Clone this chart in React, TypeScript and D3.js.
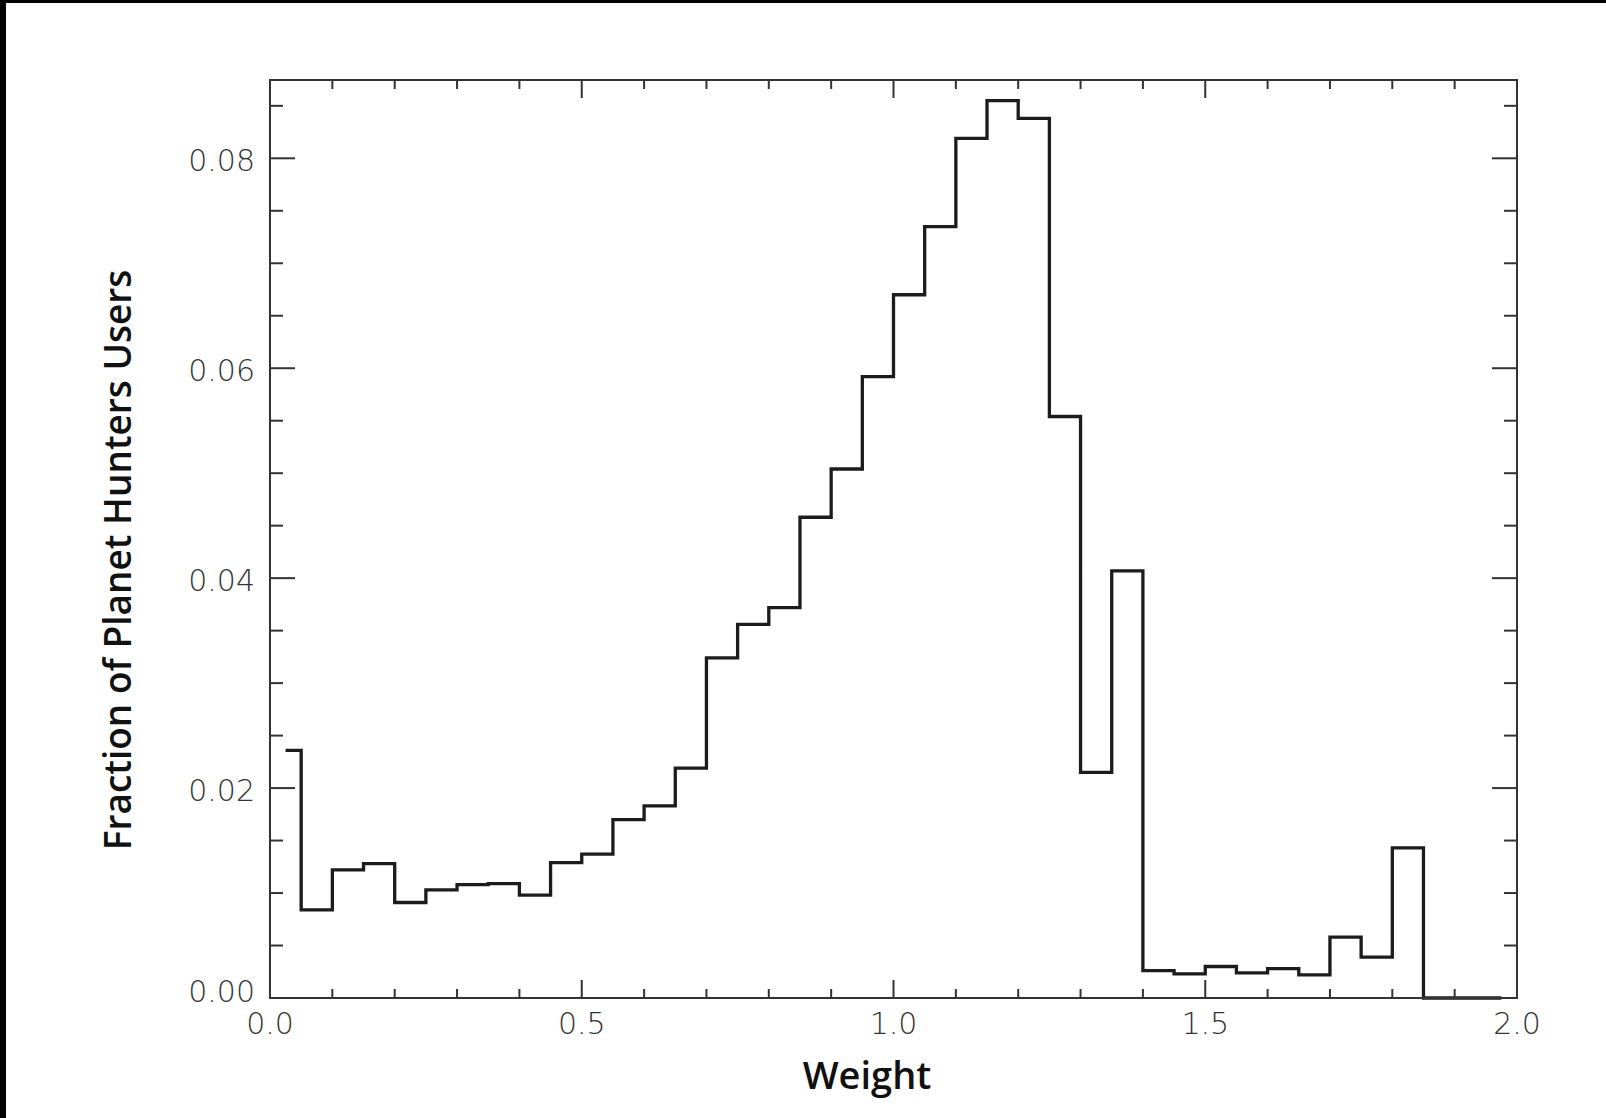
import React from "react";
import * as d3 from "d3";

const binCenters = [
  0.025, 0.075, 0.125, 0.175, 0.225, 0.275, 0.325, 0.375, 0.425, 0.475,
  0.525, 0.575, 0.625, 0.675, 0.725, 0.775, 0.825, 0.875, 0.925, 0.975,
  1.025, 1.075, 1.125, 1.175, 1.225, 1.275, 1.325, 1.375, 1.425, 1.475,
  1.525, 1.575, 1.625, 1.675, 1.725, 1.775, 1.825, 1.875, 1.925, 1.975,
];
const fractions = [
  0.0236, 0.0084, 0.0122, 0.0128, 0.0091, 0.0103, 0.0108, 0.0109, 0.0098, 0.0129,
  0.0137, 0.0170, 0.0183, 0.0219, 0.0324, 0.0356, 0.0372, 0.0458, 0.0504, 0.0592,
  0.0670, 0.0735, 0.0819, 0.0855, 0.0838, 0.0554, 0.0215, 0.0407, 0.0026, 0.0023,
  0.0030, 0.0024, 0.0028, 0.0022, 0.0058, 0.0039, 0.0143, 0, 0, 0,
];
const xMajorTicks = [0, 0.5, 1.0, 1.5, 2.0];
const xMinorTicks = [0.1, 0.2, 0.3, 0.4, 0.6, 0.7, 0.8, 0.9, 1.1, 1.2, 1.3, 1.4, 1.6, 1.7, 1.8, 1.9];
const yMajorTicks = [0, 0.02, 0.04, 0.06, 0.08];
const yMinorTicks = [0.005, 0.01, 0.015, 0.025, 0.03, 0.035, 0.045, 0.05, 0.055, 0.065, 0.07, 0.075, 0.085];
const xLabels = ["0.0", "0.5", "1.0", "1.5", "2.0"];
const yLabels = ["0.00", "0.02", "0.04", "0.06", "0.08"];

const W = 1606;
const H = 1118;
const L = 270, R = 1517, T = 80, B = 998;

export default function App() {
  const x = d3.scaleLinear().domain([0, 2]).range([L, R]);
  const y = d3.scaleLinear().domain([0, 0.08746]).range([B, T]);
  const pts: [number, number][] = binCenters.map((c, i) => [c, fractions[i]]);
  const line = d3
    .line<[number, number]>()
    .x((d) => x(d[0]))
    .y((d) => y(d[1]))
    .curve(d3.curveStep);
  const axisColor = "#333";
  const tickFont = "'DejaVu Sans', sans-serif";
  const titleFont = "'Open Sans', sans-serif";
  return (
    <svg
      width={W}
      height={H}
      style={{ position: "absolute", left: 0, top: 0, background: "#fff" }}
    >
      <rect x={0} y={0} width={W} height={H} fill="#fff" />
      <rect x={0} y={0} width={W} height={3} fill="#000" />
      <rect x={0} y={0} width={6} height={H} fill="#000" />

      <path d={line(pts) || ""} fill="none" stroke="#1c1c1c" strokeWidth={3.3} strokeLinejoin="miter" />

      <rect x={L} y={T} width={R - L} height={B - T} fill="none" stroke={axisColor} strokeWidth={2} />

      {xMajorTicks.map((t) => (
        <g key={"xM" + t}>
          <line x1={x(t)} x2={x(t)} y1={B} y2={B - 18} stroke={axisColor} strokeWidth={2} />
          <line x1={x(t)} x2={x(t)} y1={T} y2={T + 18} stroke={axisColor} strokeWidth={2} />
        </g>
      ))}
      {xMinorTicks.map((t) => (
        <g key={"xm" + t}>
          <line x1={x(t)} x2={x(t)} y1={B} y2={B - 9} stroke={axisColor} strokeWidth={2} />
          <line x1={x(t)} x2={x(t)} y1={T} y2={T + 9} stroke={axisColor} strokeWidth={2} />
        </g>
      ))}
      {yMajorTicks.map((t) => (
        <g key={"yM" + t}>
          <line x1={L} x2={L + 25} y1={y(t)} y2={y(t)} stroke={axisColor} strokeWidth={2} />
          <line x1={R} x2={R - 25} y1={y(t)} y2={y(t)} stroke={axisColor} strokeWidth={2} />
        </g>
      ))}
      {yMinorTicks.map((t) => (
        <g key={"ym" + t}>
          <line x1={L} x2={L + 13} y1={y(t)} y2={y(t)} stroke={axisColor} strokeWidth={2} />
          <line x1={R} x2={R - 13} y1={y(t)} y2={y(t)} stroke={axisColor} strokeWidth={2} />
        </g>
      ))}

      {xMajorTicks.map((t, i) => (
        <text
          key={"xl" + t}
          x={x(t)}
          y={B + 36}
          textAnchor="middle"
          fontFamily={tickFont}
          fontWeight={200}
          fontSize={30}
          fill="#333"
        >
          {xLabels[i]}
        </text>
      ))}
      {yMajorTicks.map((t, i) => (
        <text
          key={"yl" + t}
          x={L - 15}
          y={y(t) + (i === 0 ? 3.5 : 13)}
          textAnchor="end"
          fontFamily={tickFont}
          fontWeight={200}
          fontSize={30}
          fill="#333"
        >
          {yLabels[i]}
        </text>
      ))}

      <text
        x={867}
        y={1089}
        textAnchor="middle"
        fontFamily={titleFont}
        fontWeight={600}
        fontSize={38}
        fill="#111"
      >
        Weight
      </text>
      <text
        transform={`translate(131,560) rotate(-90)`}
        textAnchor="middle"
        fontFamily={titleFont}
        fontWeight={600}
        fontSize={37}
        fill="#111"
      >
        Fraction of Planet Hunters Users
      </text>
    </svg>
  );
}
